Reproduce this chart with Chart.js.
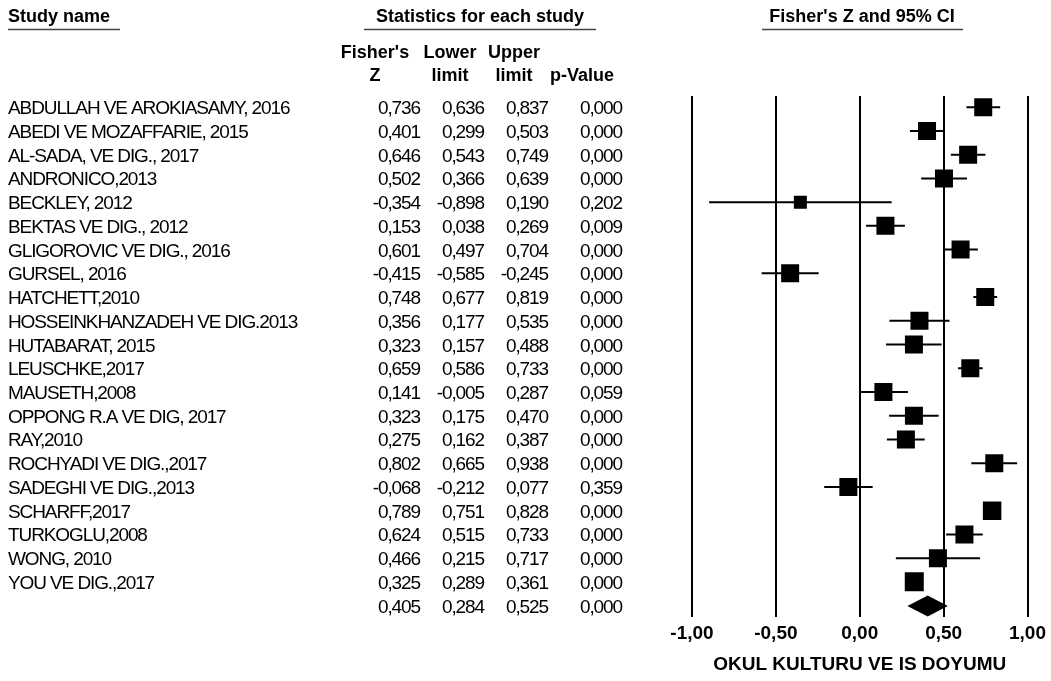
<!DOCTYPE html>
<html>
<head>
<meta charset="utf-8">
<title>Fisher's Z forest plot</title>
<script src="https://cdn.jsdelivr.net/npm/chart.js@4/dist/chart.umd.min.js"></script>
<style>
  html, body { margin: 0; padding: 0; background: #fff; }
  #plot { display: block; }
</style>
</head>
<body>
<canvas id="plot" width="1051" height="681"></canvas>
<script>
// Study rows, top to bottom
const studies = [
  "ABDULLAH VE AROKIASAMY, 2016",
  "ABEDI VE MOZAFFARIE, 2015",
  "AL-SADA, VE DIG., 2017",
  "ANDRONICO,2013",
  "BECKLEY, 2012",
  "BEKTAS VE DIG., 2012",
  "GLIGOROVIC VE DIG., 2016",
  "GURSEL, 2016",
  "HATCHETT,2010",
  "HOSSEINKHANZADEH VE DIG.2013",
  "HUTABARAT, 2015",
  "LEUSCHKE,2017",
  "MAUSETH,2008",
  "OPPONG R.A VE DIG, 2017",
  "RAY,2010",
  "ROCHYADI VE DIG.,2017",
  "SADEGHI VE DIG.,2013",
  "SCHARFF,2017",
  "TURKOGLU,2008",
  "WONG, 2010",
  "YOU VE DIG.,2017"
];
const fisherZ = [0.736, 0.401, 0.646, 0.502, -0.354, 0.153, 0.601, -0.415, 0.748, 0.356, 0.323,
                 0.659, 0.141, 0.323, 0.275, 0.802, -0.068, 0.789, 0.624, 0.466, 0.325];
const lowerLimit = [0.636, 0.299, 0.543, 0.366, -0.898, 0.038, 0.497, -0.585, 0.677, 0.177, 0.157,
                    0.586, -0.005, 0.175, 0.162, 0.665, -0.212, 0.751, 0.515, 0.215, 0.289];
const upperLimit = [0.837, 0.503, 0.749, 0.639, 0.190, 0.269, 0.704, -0.245, 0.819, 0.535, 0.488,
                    0.733, 0.287, 0.470, 0.387, 0.938, 0.077, 0.828, 0.733, 0.717, 0.361];
const pValue = [0.000, 0.000, 0.000, 0.000, 0.202, 0.009, 0.000, 0.000, 0.000, 0.000, 0.000,
                0.000, 0.059, 0.000, 0.000, 0.000, 0.359, 0.000, 0.000, 0.000, 0.000];

// Pooled estimate (last row)
const pooledZ = 0.405;
const pooledLower = 0.284;
const pooledUpper = 0.525;
const pooledP = 0.000;

// Axis ticks and captions
const xTicks = [-1, -0.5, 0, 0.5, 1];
const axisTitle = "OKUL KULTURU VE IS DOYUMU";
const headStudy = "Study name";
const headStats = "Statistics for each study";
const headPlot = "Fisher's Z and 95% CI";
const colHeadTop = ["Fisher's", "Lower", "Upper", ""];
const colHeadBottom = ["Z", "limit", "limit", "p-Value"];

// ---- styling ----
const FONT = "'Liberation Sans', Arial, Helvetica, sans-serif";
const boxSide = [18, 18, 18, 18, 13, 18, 18, 18, 18, 18, 18, 18, 18, 18, 18, 18, 18, 18.5, 18, 18, 19];
const colRight = [420, 484, 548, 622];
const colCenter = [375, 450, 514, 582];

const comma = (v, d) => v.toFixed(d).replace('.', ',');
const pooledRow = studies.length;

// CI whiskers as one line with breaks between studies
const ciPoints = [];
studies.forEach((_, i) => {
  ciPoints.push({ x: lowerLimit[i], y: i });
  ciPoints.push({ x: upperLimit[i], y: i });
  ciPoints.push({ x: null, y: null });
});
const boxPoints = fisherZ.map((z, i) => ({ x: z, y: i }));

const tablePlugin = {
  id: 'studyTable',
  afterDraw(chart) {
    const { ctx } = chart;
    const ys = chart.scales.y;
    ctx.save();
    ctx.fillStyle = '#000';
    ctx.textBaseline = 'alphabetic';

    // headings
    ctx.font = `bold 18px ${FONT}`;
    ctx.textAlign = 'left';
    ctx.fillText(headStudy, 8, 22);
    ctx.textAlign = 'center';
    ctx.fillText(headStats, 480, 22);
    ctx.fillText(headPlot, 862, 22);
    colHeadTop.forEach((t, k) => ctx.fillText(t, colCenter[k], 58));
    colHeadBottom.forEach((t, k) => ctx.fillText(t, colCenter[k], 81));

    // heading rules
    ctx.strokeStyle = '#444';
    ctx.lineWidth = 1.5;
    [[8, 120], [364, 596], [762, 963]].forEach(([a, b]) => {
      ctx.beginPath();
      ctx.moveTo(a, 29.5);
      ctx.lineTo(b, 29.5);
      ctx.stroke();
    });

    // study rows: tall, tightly spaced lettering
    ctx.font = `19px ${FONT}`;
    if ('letterSpacing' in ctx) ctx.letterSpacing = '-1.1px';
    const rowText = (i, name, vals) => {
      const y = ys.getPixelForValue(i) + 7;
      if (name) {
        ctx.textAlign = 'left';
        ctx.fillText(name, 8, y);
      }
      ctx.textAlign = 'right';
      vals.forEach((v, k) => ctx.fillText(comma(v, 3), colRight[k], y));
    };
    studies.forEach((name, i) =>
      rowText(i, name, [fisherZ[i], lowerLimit[i], upperLimit[i], pValue[i]]));
    rowText(pooledRow, '', [pooledZ, pooledLower, pooledUpper, pooledP]);
    ctx.restore();
  }
};

const diamondPlugin = {
  id: 'pooledDiamond',
  afterDatasetsDraw(chart) {
    const { ctx } = chart;
    const xs = chart.scales.x, ys = chart.scales.y;
    const yc = ys.getPixelForValue(pooledRow) + 0.5;
    const h = 10.5;
    ctx.save();
    ctx.fillStyle = '#000';
    ctx.beginPath();
    ctx.moveTo(xs.getPixelForValue(pooledLower), yc);
    ctx.lineTo(xs.getPixelForValue(pooledZ), yc - h);
    ctx.lineTo(xs.getPixelForValue(pooledUpper), yc);
    ctx.lineTo(xs.getPixelForValue(pooledZ), yc + h);
    ctx.closePath();
    ctx.fill();
    ctx.restore();
  }
};

new Chart(document.getElementById('plot'), {
  type: 'scatter',
  data: {
    datasets: [
      {
        type: 'line',
        data: ciPoints,
        borderColor: '#000',
        borderWidth: 2,
        pointRadius: 0,
        spanGaps: false,
        tension: 0,
        order: 2
      },
      {
        type: 'scatter',
        data: boxPoints,
        pointStyle: 'rect',
        pointRadius: boxSide.map(s => s / 2 / Math.SQRT1_2),
        pointHoverRadius: boxSide.map(s => s / 2 / Math.SQRT1_2),
        backgroundColor: '#000',
        borderColor: '#000',
        borderWidth: 0,
        order: 1
      }
    ]
  },
  options: {
    responsive: false,
    animation: false,
    devicePixelRatio: 1,
    layout: { padding: { left: 692, right: 0, top: 96, bottom: 0 } },
    plugins: { legend: { display: false }, tooltip: { enabled: false } },
    scales: {
      x: {
        type: 'linear',
        min: -1,
        max: 1,
        afterBuildTicks: s => { s.ticks = xTicks.map(v => ({ value: v })); },
        afterFit: s => { s.height = 64; },
        ticks: {
          callback: v => comma(v, 2),
          color: '#000',
          font: { family: FONT, size: 19, weight: 'bold' },
          padding: 5,
          maxRotation: 0,
          autoSkip: false
        },
        grid: { color: '#000', lineWidth: 2, drawTicks: false },
        border: { display: false },
        title: {
          display: true,
          text: axisTitle,
          color: '#000',
          font: { family: FONT, size: 19, weight: 'bold' },
          padding: { top: 0, bottom: 5 }
        }
      },
      y: {
        type: 'linear',
        reverse: true,
        min: -0.472,
        max: 21.48,
        display: false
      }
    }
  },
  plugins: [tablePlugin, diamondPlugin]
});
</script>
</body>
</html>
